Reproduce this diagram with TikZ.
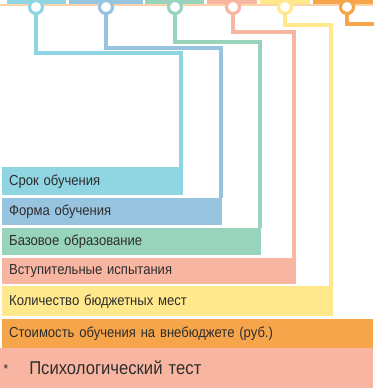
\documentclass[tikz,border=0pt]{standalone}
\usepackage{fontspec}
\setmainfont[FakeStretch=0.9]{Liberation Sans}

\definecolor{srok}{RGB}{143,213,226}
\definecolor{forma}{RGB}{152,196,224}
\definecolor{baza}{RGB}{152,212,188}
\definecolor{vstup}{RGB}{248,182,162}
\definecolor{budget}{RGB}{255,233,140}
\definecolor{cost}{RGB}{247,165,75}
\definecolor{peach}{RGB}{253,212,168}
\definecolor{ink}{RGB}{45,45,45}

\begin{document}
\begin{tikzpicture}[x=1pt,y=-1pt,
	bar/.style={anchor=north west,inner xsep=7pt,inner ysep=0pt,text=ink,
		font=\fontsize{14.5}{15}\selectfont},
	ring/.style={circle,fill=white,line width=3.2pt,minimum size=13pt,inner sep=0pt},
	link/.style={line width=3.5pt}]

	\useasboundingbox (0,0) rectangle (373,388);

	% top strip
	\foreach \c/\a/\b in {srok/7/66,forma/69/143,baza/145/204,vstup/207/257,budget/260/310,cost/313/373}
	\fill [\c] (\a,0) rectangle (\b,4);
	\fill [peach] (0,4) rectangle (373,6);

	% bars
	\node [bar,fill=srok,minimum height=28pt,text width=167pt] (b1) at (2,167) {Срок обучения};
	\node [bar,fill=forma,minimum height=27pt,text width=206pt] (b2) at (2,198) {Форма обучения};
	\node [bar,fill=baza,minimum height=27pt,text width=245pt] (b3) at (2,228) {Базовое образование};
	\node [bar,fill=vstup,minimum height=26pt,text width=280pt] (b4) at (2,258) {Вступительные испытания};
	\node [bar,fill=budget,minimum height=30pt,text width=317pt] (b5) at (2,286) {Количество бюджетных мест};
	\node [bar,fill=cost,minimum height=29pt,text width=357pt] (b6) at (2,319) {Стоимость обучения на внебюджете (руб.)};
	\node [bar,fill=vstup,minimum height=40pt,text width=366pt,inner xsep=3.5pt,
		font=\fontsize{18.5}{18.5}\selectfont] (b7) at (0,348) {\raisebox{1pt}{\fontsize{13}{13}\selectfont*}\hspace{21pt}Психологический тест};

	% rings
	\node [ring,draw=srok] (c1) at (36,7) {};
	\node [ring,draw=forma] (c2) at (106,7) {};
	\node [ring,draw=baza] (c3) at (175,7) {};
	\node [ring,draw=vstup] (c4) at (233,7) {};
	\node [ring,draw=budget] (c5) at (285,7) {};
	\node [ring,draw=cost] (c6) at (347,7) {};

	% bends
	\coordinate (k1) at (181,53);
	\coordinate (k2) at (221,48);
	\coordinate (k3) at (260,42);
	\coordinate (k4) at (294,32);
	\coordinate (k5) at (331,25);
	\coordinate (k6) at (375,24);

	\draw [link,srok] (c1.south) |- (k1) -- (k1 |- b1.north);
	\draw [link,forma] (c2.south) |- (k2) -- (k2 |- b2.north);
	\draw [link,baza] (c3.south) |- (k3) -- (k3 |- b3.north);
	\draw [link,vstup] (c4.south) |- (k4) -- (k4 |- b4.north);
	\draw [link,budget] (c5.south) |- (k5) -- (k5 |- b5.north);
	\draw [link,cost] (c6.south) |- (k6);

\end{tikzpicture}
\end{document}
